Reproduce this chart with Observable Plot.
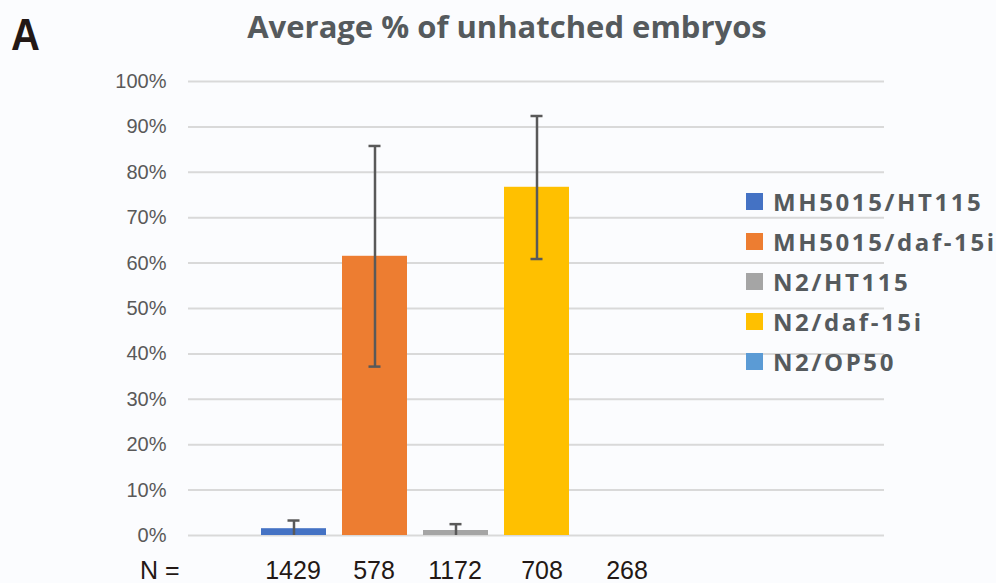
<!DOCTYPE html>
<html>
<head>
<meta charset="utf-8">
<script src="https://cdn.jsdelivr.net/npm/d3@7"></script>
<script src="https://cdn.jsdelivr.net/npm/@observablehq/plot@0.6"></script>
<style>
  html, body { margin: 0; padding: 0; background: #fbfcfe; }
  #wrap { position: relative; width: 996px; height: 583px; overflow: hidden; background: #fbfcfe; }
  #wrap svg { position: absolute; left: 0; top: 0; background: transparent; }
  .ov { position: absolute; white-space: nowrap; }
  #panel { left: 11px; top: 10px; font-family: "Liberation Sans", Arial, sans-serif; font-weight: 700; font-size: 40px; color: #231815; transform: scaleY(1.1); transform-origin: top left; }
  #title { left: 0; width: 1014px; text-align: center; top: 5px; font-family: "Open Sans", sans-serif; font-weight: 700; font-size: 31px; color: #555a5d; }
  #nlabel { left: 140px; top: 556px; font-family: "Liberation Sans", Arial, sans-serif; font-size: 25px; color: #231815; }
  #legend { left: 746px; top: 181px; font-family: "Open Sans", sans-serif; font-weight: 700; font-size: 24px; color: #555a5d; letter-spacing: 2.6px; }
  .li { height: 40px; display: flex; align-items: center; }
  .sw { width: 17px; height: 17px; margin-right: 10px; flex: none; }
</style>
</head>
<body>
<div id="wrap">
  <div id="chart"></div>
  <div id="panel" class="ov">A</div>
  <div id="title" class="ov">Average % of unhatched embryos</div>
  <div id="nlabel" class="ov">N =</div>
  <div id="legend" class="ov"></div>
</div>
<script>
// ---- data ----
const series = ["MH5015/HT115", "MH5015/daf-15i", "N2/HT115", "N2/daf-15i", "N2/OP50"];
const values = [0.015, 0.615, 0.011, 0.767, 0];
const errLow = [0, 0.372, 0, 0.609, null];
const errHigh = [0.033, 0.858, 0.025, 0.924, null];
const nCounts = [1429, 578, 1172, 708, 268];
const colors = ["#4472c4", "#ed7d31", "#a5a5a5", "#ffc000", "#5b9bd5"];
const yTicks = [0, 0.1, 0.2, 0.3, 0.4, 0.5, 0.6, 0.7, 0.8, 0.9, 1.0];

const data = series.map((s, i) => ({series: s, value: values[i], low: errLow[i], high: errHigh[i], n: nCounts[i]}));
const errData = data.filter(d => d.high != null);
const lowCaps = errData.filter(d => d.low > 0);
const nOf = new Map(data.map(d => [d.series, d.n]));

const axisN = (ticks, dx) => Plot.axisX(ticks, {tickFormat: d => String(nOf.get(d)), tickSize: 0, tickPadding: 26, fontSize: 25, fill: "#231815", label: null, dx});

const chart = Plot.plot({
  width: 996,
  height: 583,
  marginLeft: 188,
  marginRight: 112,
  marginTop: 81,
  marginBottom: 48,
  style: {background: "transparent", fontFamily: "Liberation Sans, Arial, sans-serif"},
  x: {domain: series, range: [242.6, 669], padding: 0.2},
  y: {domain: [0, 1]},
  color: {domain: series, range: colors},
  marks: [
    Plot.gridY(yTicks, {stroke: "#d9d9d9", strokeWidth: 2, strokeOpacity: 1}),
    Plot.barY(data, {x: "series", y: "value", fill: "series"}),
    Plot.ruleX(errData, {x: "series", y1: d => Math.max(0, d.low), y2: "high", stroke: "#595959", strokeWidth: 2.5}),
    Plot.tickY(errData, {x: "series", y: "high", stroke: "#595959", strokeWidth: 2.5, insetLeft: 26.5, insetRight: 26.5}),
    Plot.tickY(lowCaps, {x: "series", y: "low", stroke: "#595959", strokeWidth: 2.5, insetLeft: 26.5, insetRight: 26.5}),
    Plot.axisY(yTicks, {tickFormat: d => Math.round(d * 100) + "%", tickSize: 0, tickPadding: 22, fontSize: 20, fill: "#595959", label: null}),
    axisN(series.slice(0, 3), -1),
    axisN([series[3]], 5),
    axisN([series[4]], 9)
  ]
});
document.getElementById("chart").appendChild(chart);

const legend = document.getElementById("legend");
series.forEach((s, i) => {
  const row = document.createElement("div");
  row.className = "li";
  const sw = document.createElement("span");
  sw.className = "sw";
  sw.style.background = colors[i];
  const t = document.createElement("span");
  t.textContent = s;
  row.appendChild(sw);
  row.appendChild(t);
  legend.appendChild(row);
});
</script>
</body>
</html>
